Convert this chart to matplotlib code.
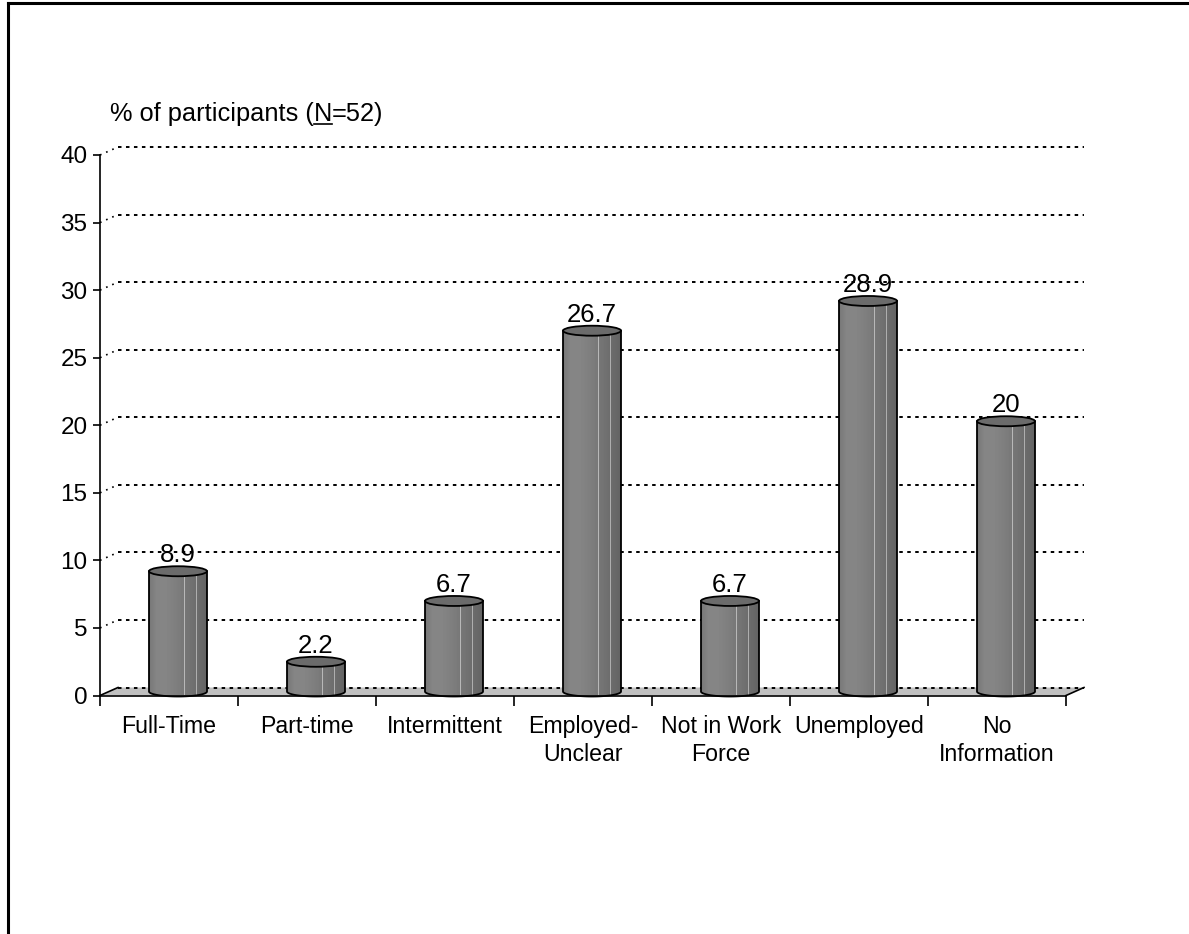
import numpy as np
import matplotlib
matplotlib.use('Agg')
import matplotlib.pyplot as plt
from matplotlib.patches import Ellipse, Polygon, PathPatch
from matplotlib.path import Path
from matplotlib.lines import Line2D

plt.rcParams['font.family'] = ['Liberation Sans', 'DejaVu Sans']

categories = ['Full-Time', 'Part-time', 'Intermittent', 'Employed-\nUnclear',
              'Not in Work\nForce', 'Unemployed', 'No\nInformation']
values = [8.9, 2.2, 6.7, 26.7, 6.7, 28.9, 20]
value_labels = ['8.9', '2.2', '6.7', '26.7', '6.7', '28.9', '20']
y_ticks = [0, 5, 10, 15, 20, 25, 30, 35, 40]
title_parts = ['% of participants (', 'N', '=52)']

W, H = 1189, 934
fig = plt.figure(figsize=(W / 100, H / 100), dpi=100)
ax = fig.add_axes([100 / W, (H - 695.5) / H, 966 / W, 540.5 / H])
n = len(categories)
ymax = y_ticks[-1]
ax.set_xlim(0, n)
ax.set_ylim(0, ymax)

# 3d depth offset, in data units
dx = 18 / 966 * n
dy = 8 / 540.5 * ymax
# cylinder size, in data units
cw = 58 / 966 * n
ch = 10 / 540.5 * ymax

# floor
floor = Polygon([(0, 0), (dx, dy), (n + dx, dy), (n, 0)], closed=True,
                facecolor='#c0c0c0', edgecolor='none', zorder=1, clip_on=False)
ax.add_patch(floor)
ax.plot([0, dx], [0, dy], color='black', lw=1.2, zorder=1.2, clip_on=False)
ax.plot([n, n + dx], [0, dy], color='black', lw=1.2, zorder=1.2, clip_on=False)

# gridlines on the back wall
for v in y_ticks:
    if v > 0:
        ax.plot([0, dx], [v, v + dy], color='black', lw=1.2,
                linestyle=(0, (1, 3)), zorder=1.5, clip_on=False)
    ax.plot([dx, n + dx], [v + dy, v + dy], color='black', lw=1.4,
            linestyle=(0, (1.8, 2.3)), zorder=1.5, clip_on=False)

# shading across a cylinder (left to right)
cols = 58
frac = np.linspace(0, 1, cols)
shade = np.interp(frac, [0, 0.12, 0.3, 0.5, 0.7, 0.85, 1.0],
                  [0.47, 0.52, 0.52, 0.49, 0.45, 0.42, 0.39])
shade[int(cols * 0.62)] = 0.72
shade[int(cols * 0.82)] = 0.68
grad = shade[np.newaxis, :]

t = np.linspace(np.pi, 2 * np.pi, 40)
for i, (v, lab) in enumerate(zip(values, value_labels)):
    cx = i + 0.5 + dx / 2
    y0 = dy / 2
    y1 = v + dy / 2
    xs = np.concatenate([[cx - cw / 2], cx + cw / 2 * np.cos(t), [cx + cw / 2]])
    ys = np.concatenate([[y1], y0 + ch / 2 * np.sin(t), [y1]])
    verts = list(zip(xs, ys)) + [(xs[0], ys[0])]
    body = PathPatch(Path(verts, closed=True), facecolor='none',
                     edgecolor='black', lw=1.3, zorder=3.2, clip_on=False)
    ax.add_patch(body)
    im = ax.imshow(grad, cmap='gray', vmin=0, vmax=1, aspect='auto',
                   interpolation='nearest',
                   extent=(cx - cw / 2, cx + cw / 2, y0 - ch / 2, y1),
                   zorder=3, clip_on=True)
    im.set_clip_path(body)
    top = Ellipse((cx, y1), cw, ch, angle=0, facecolor='#6b6b6b',
                  edgecolor='black', lw=1.3, zorder=3.4, clip_on=False)
    ax.add_patch(top)
    ax.annotate(lab, (cx, y1 + ch / 2), xytext=(0, 3), textcoords='offset points',
                ha='center', va='baseline', fontsize=18.5, zorder=5,
                annotation_clip=False)

ax.set_xlim(0, n)
ax.set_ylim(0, ymax)

for s in ['top', 'right']:
    ax.spines[s].set_visible(False)
for s in ['left', 'bottom']:
    ax.spines[s].set_linewidth(1.2)
    ax.spines[s].set_zorder(2)
ax.patch.set_visible(False)

ax.set_yticks(y_ticks)
ax.tick_params(axis='y', direction='out', length=5, width=1.2, pad=4, labelsize=17.5)
ax.set_xticks(np.arange(n + 1))
ax.set_xticklabels([])
ax.set_xticks(np.arange(n) + 0.5, minor=True)
ax.set_xticklabels(categories, minor=True, fontsize=16.7, linespacing=1.3)
ax.tick_params(axis='x', which='major', direction='out', length=7.5, width=1.2)
ax.tick_params(axis='x', which='minor', length=0, pad=14)

# title with underlined N
renderer = fig.canvas.get_renderer()
x = 110
for k, part in enumerate(title_parts):
    txt = fig.text(x / W, 1 - 121 / H, part, fontsize=18.3, ha='left', va='baseline')
    bb = txt.get_window_extent(renderer)
    if k == 1:
        fig.add_artist(Line2D([bb.x0 / W, bb.x1 / W], [1 - 124 / H, 1 - 124 / H],
                              color='black', lw=1.2))
    x = bb.x1

# outer frame (top and left)
fig.add_artist(Line2D([7.5 / W, 7.5 / W], [0, 1 - 2.5 / H], color='black', lw=2.2))
fig.add_artist(Line2D([7.5 / W, 1188 / W], [1 - 2.5 / H, 1 - 2.5 / H], color='black', lw=2.2))

fig.savefig('out.png', dpi=100, facecolor='white')
